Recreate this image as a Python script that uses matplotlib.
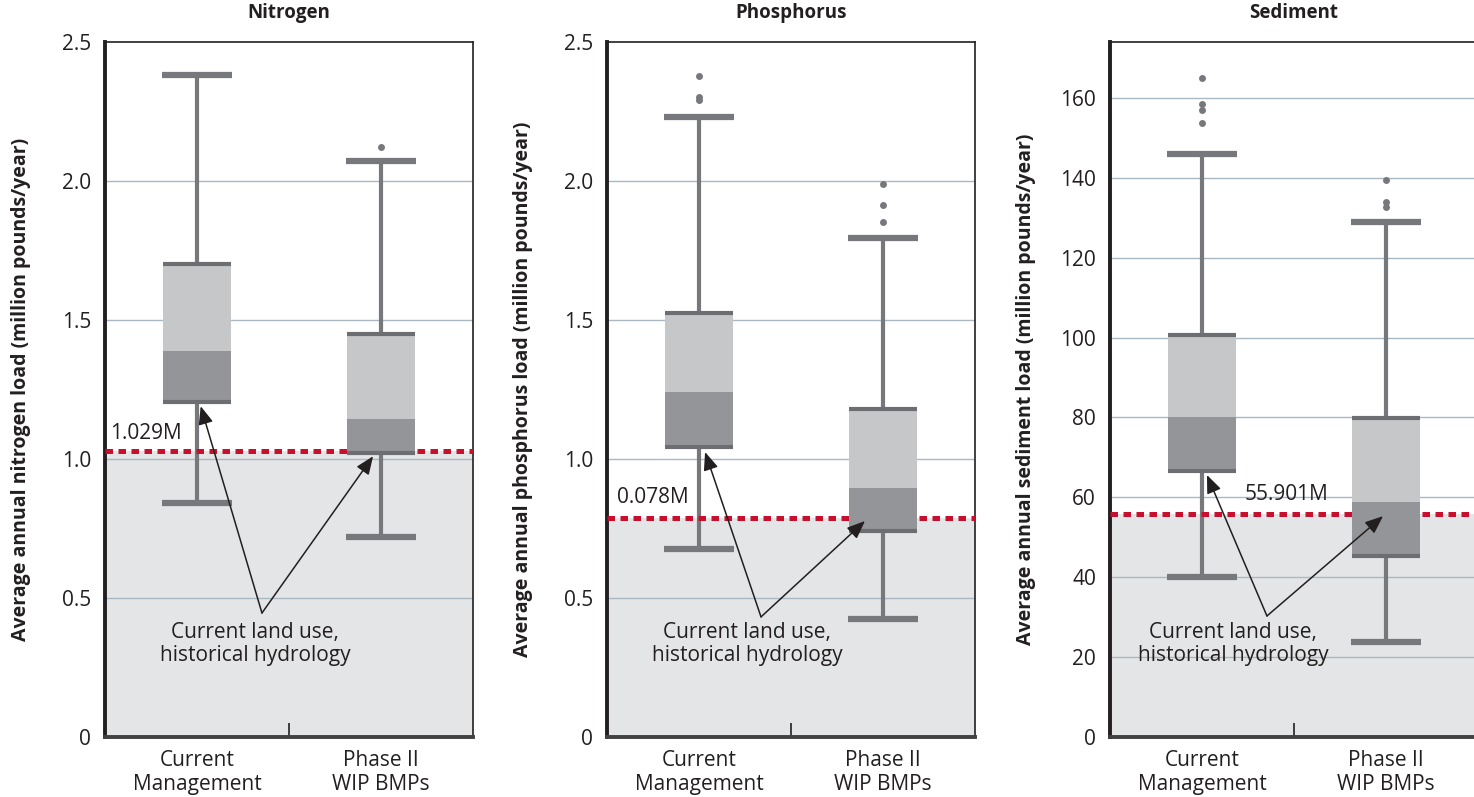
import matplotlib.pyplot as plt
import numpy as np

plt.rcParams['font.family'] = ['Open Sans', 'DejaVu Sans']

categories = ['Current\nManagement', 'Phase II\nWIP BMPs']
titles = ['Nitrogen', 'Phosphorus', 'Sediment']
ylabels = ['Average annual nitrogen load (million pounds/year)',
           'Average annual phosphorus load (million pounds/year)',
           'Average annual sediment load (million pounds/year)']

# box stats per panel: [current, phase II]
whislo = [[0.84, 0.72], [0.676, 0.424], [40.1, 23.8]]
q1 = [[1.205, 1.022], [1.043, 0.741], [66.6, 45.3]]
med = [[1.39, 1.145], [1.241, 0.896], [80.1, 58.8]]
q3 = [[1.70, 1.45], [1.525, 1.18], [100.6, 79.9]]
whishi = [[2.38, 2.072], [2.23, 1.795], [146.0, 128.9]]
fliers = [[[], [2.122]],
          [[2.378, 2.302, 2.291], [1.989, 1.914, 1.853]],
          [[165.0, 158.5, 157.0, 153.7], [139.5, 134.0, 132.7]]]

targets = [1.029, 0.786, 55.901]
target_labels = ['1.029M', '0.078M', '55.901M']

yticks = [[0, 0.5, 1.0, 1.5, 2.0, 2.5], [0, 0.5, 1.0, 1.5, 2.0, 2.5],
          [0, 20, 40, 60, 80, 100, 120, 140, 160]]
ytick_labels = [['0', '0.5', '1.0', '1.5', '2.0', '2.5'],
                ['0', '0.5', '1.0', '1.5', '2.0', '2.5'],
                ['0', '20', '40', '60', '80', '100', '120', '140', '160']]
ylims = [2.5, 2.5, 174]

# annotation geometry (data coords)
label_pos = [(-0.473, 1.09), (-0.446, 0.863), (0.234, 60.8)]
vertex = [(0.353, 0.446), (0.337, 0.432), (0.353, 30.3)]
tips = [[(0.02, 1.19), (0.957, 1.01)],
        [(0.033, 1.025), (0.902, 0.777)],
        [(0.027, 65.6), (0.984, 55.3)]]
note_pos = [(0.315, 0.335), (0.261, 0.335), (0.168, 23.3)]

LIGHT = '#c6c7c9'
DARK = '#939598'
EDGE = '#6d6e71'
WHISK = '#77787b'
SHADE = '#e4e5e7'
RED = '#c8102e'
GRID = '#a9b8c3'
INK = '#231f20'

fig = plt.figure(figsize=(14.74, 7.97), dpi=100)
lefts = [105, 607, 1110]
W, H = 1474, 797
bw = 0.37
cw = 0.38

for i in range(3):
    ax = fig.add_axes([lefts[i] / W, 60 / H, 368 / W, 695 / H])
    x = np.arange(2)
    ax.set_xlim(-0.5, 1.5)
    ax.set_ylim(0, ylims[i])

    ax.axhspan(0, targets[i], color=SHADE, zorder=0, lw=0)
    for t in yticks[i][1:]:
        if t < ylims[i] - 1e-9:
            ax.axhline(t, color=GRID, lw=1, zorder=1)

    lo = np.array(whislo[i]); hi = np.array(whishi[i])
    a = np.array(q1[i]); m = np.array(med[i]); b = np.array(q3[i])
    ax.vlines(x, lo, hi, color=WHISK, lw=3, zorder=2)
    ax.hlines(lo, x - cw / 2, x + cw / 2, color=WHISK, lw=4.5, zorder=2)
    ax.hlines(hi, x - cw / 2, x + cw / 2, color=WHISK, lw=4.5, zorder=2)
    for j in range(2):
        ax.plot([x[j]] * len(fliers[i][j]), fliers[i][j], 'o', color=WHISK,
                ms=5, mec='none', zorder=2)

    ax.axhline(targets[i], color=RED, lw=3.6, ls=(0, (1.5, 1.1)), zorder=3)

    ax.bar(x, m - a, bottom=a, width=bw, color=DARK, zorder=4, lw=0)
    ax.bar(x, b - m, bottom=m, width=bw, color=LIGHT, zorder=4, lw=0)
    ax.hlines(a, x - bw / 2, x + bw / 2, color=EDGE, lw=3, zorder=5)
    ax.hlines(b, x - bw / 2, x + bw / 2, color=EDGE, lw=3, zorder=5)

    ax.text(label_pos[i][0], label_pos[i][1], target_labels[i], fontsize=15,
            ha='left', va='center', color=INK, zorder=6)

    for tx, ty in tips[i]:
        ax.annotate('', xy=(tx, ty), xytext=vertex[i],
                    arrowprops=dict(arrowstyle='-|>,head_length=1.1,head_width=0.45',
                                    color=INK, lw=1.1, shrinkA=0, shrinkB=0),
                    zorder=6)
    ax.text(note_pos[i][0], note_pos[i][1], 'Current land use,\nhistorical hydrology',
            fontsize=15, ha='center', va='center', color=INK,
            linespacing=1.15, zorder=6)

    ax.set_yticks(yticks[i])
    ax.set_yticklabels(ytick_labels[i], fontsize=15, color=INK)
    ax.set_xticks(x)
    ax.set_xticklabels(categories, fontsize=15, color=INK, linespacing=1.2)
    ax.tick_params(axis='both', which='major', length=0)
    ax.tick_params(axis='y', pad=10)
    ax.tick_params(axis='x', pad=9)
    ax.set_xticks([0.5], minor=True)
    ax.tick_params(axis='x', which='minor', direction='in', length=10,
                   width=1.2, color=INK)

    ax.spines['left'].set_linewidth(2.8)
    ax.spines['left'].set_color(INK)
    ax.spines['bottom'].set_linewidth(2.8)
    ax.spines['bottom'].set_color('#414042')
    for s in ['top', 'right']:
        ax.spines[s].set_linewidth(1.2)
        ax.spines[s].set_color(INK)

    ax.set_title(titles[i], fontsize=13.5, fontweight='bold', pad=17, color=INK)
    ax.set_ylabel(ylabels[i], fontsize=14, fontweight='bold', color=INK)
    ax.yaxis.set_label_coords(-0.2, 0.5)

fig.savefig('out.png', dpi=100)
